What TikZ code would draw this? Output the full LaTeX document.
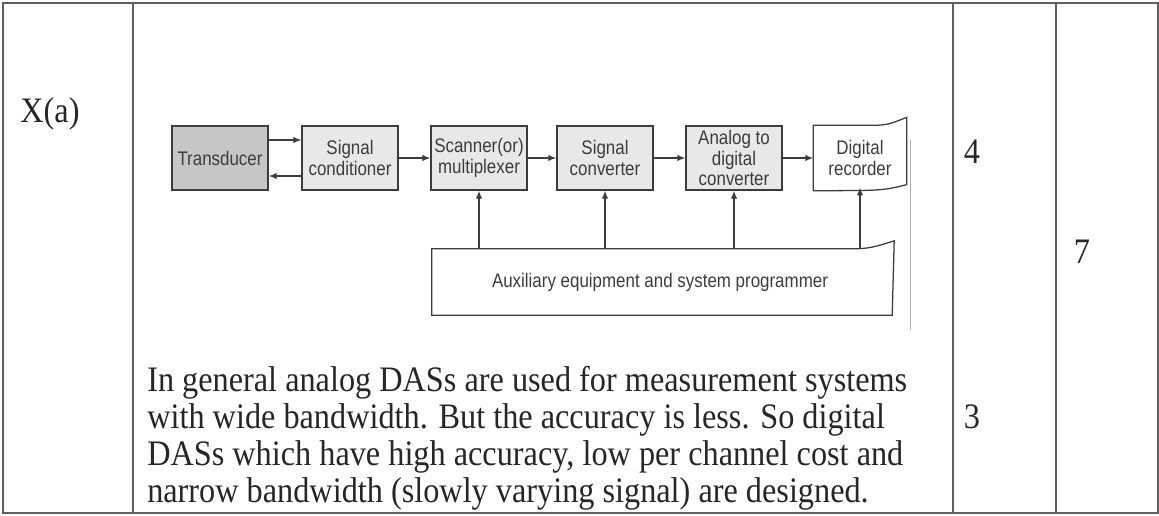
\documentclass[tikz,border=0pt]{standalone}
\usepackage{fontspec}
\setmainfont{Liberation Serif}[FakeStretch=0.9]
\newfontfamily\diagfont{Liberation Sans}[FakeStretch=0.86]
\usepackage{xcolor}
\usetikzlibrary{arrows.meta, positioning}
\definecolor{ink}{RGB}{60,60,60}
\definecolor{rule}{RGB}{95,95,95}

\begin{document}
\begin{tikzpicture}[
  x=0.025cm, y=-0.025cm,
  box/.style={draw=ink, line width=0.9pt, minimum height=1.6cm, minimum width=2.4cm,
              align=center, inner sep=1pt, text=ink,
              font=\diagfont\fontsize{14}{14.5}\selectfont},
  shaded/.style={box, fill=gray!18},
  dark/.style={box, fill=gray!45},
  plain/.style={box, draw=none},
  arr/.style={-{Latex[length=2mm, width=1.6mm]}, line width=0.9pt, draw=ink},
  cell/.style={font=\fontsize{25.5}{26.3}\selectfont, text=black!85, inner sep=0pt}
]
  % table frame
  \useasboundingbox (0,0) rectangle (1159,515);
  \draw[rule, line width=0.8pt] (3,3) rectangle (1158,513);
  \draw[rule, line width=1.3pt] (3,3) -- (1158,3);
  \draw[rule, line width=1.3pt] (3,513) -- (1158,513);
  \draw[rule, line width=0.8pt] (133,3) -- (133,513);
  \draw[rule, line width=0.8pt] (953,3) -- (953,513);
  \draw[rule, line width=0.8pt] (1056,3) -- (1056,513);

  \node[cell] (qno) at (50,114) {X(a)};
  \node[cell] (mk4) at (972,152) {4};
  \node[cell] (mk7) at (1082,252) {7};
  \node[cell] (mk3) at (972,417) {3};

  % block diagram
  \node[dark] (trans) at (220,158) {Transducer};
  \node[shaded] (cond) at (350,158) {Signal\\conditioner};
  \node[shaded] (scan) at (479,158) {Scanner(or)\\multiplexer};
  \node[shaded] (sigc) at (605,158) {Signal\\converter};
  \node[shaded] (adc) at (734,158) {Analog to\\digital\\converter};
  \node[plain, minimum width=2.3cm] (rec) at (860,158) {Digital\\recorder};
  \draw[ink, line width=0.9pt] (rec.south west) -- (rec.north west)
    -- ([xshift=-1.1cm]rec.north east)
    .. controls ([xshift=-0.5cm]rec.north east) .. ([yshift=0.2cm]rec.north east)
    -- ([yshift=0.15cm]rec.south east)
    .. controls ([xshift=-0.6cm]rec.south east) .. (rec.south west) -- cycle;

  \node[plain, minimum width=11.375cm, minimum height=1.625cm] (aux) at (660,282)
    {Auxiliary equipment and system programmer};
  \draw[ink, line width=0.9pt] (aux.south west) -- (aux.north west)
    -- ([xshift=-1.2cm]aux.north east)
    .. controls ([xshift=-0.5cm]aux.north east) .. ([xshift=0.15cm,yshift=0.2cm]aux.north east)
    -- ([xshift=0.1cm]aux.south east) -- cycle;
  \draw[gray!60, line width=0.5pt] (910,140) -- (910,330);

  \draw[arr] ([yshift=0.45cm]trans.east) -- ([yshift=0.45cm]cond.west);
  \draw[arr] ([yshift=-0.45cm]cond.west) -- ([yshift=-0.45cm]trans.east);
  \draw[arr] (cond) -- (scan);
  \draw[arr] (scan) -- (sigc);
  \draw[arr] (sigc) -- (adc);
  \draw[arr] (adc) -- (rec);

  \draw[arr] (aux.north -| scan.south) -- (scan.south);
  \draw[arr] (aux.north -| sigc.south) -- (sigc.south);
  \draw[arr] (aux.north -| adc.south) -- (adc.south);
  \draw[arr] (aux.north -| rec.south) -- ([yshift=0.08cm]rec.south);

  % explanation
  \node[cell, anchor=north west, align=left] (expl) at (147,366)
    {In general analog DASs are used for measurement systems\\
     with wide bandwidth. But the accuracy is less. So digital\\
     DASs which have high accuracy, low per channel cost and\\
     narrow bandwidth (slowly varying signal) are designed.};
\end{tikzpicture}
\end{document}
